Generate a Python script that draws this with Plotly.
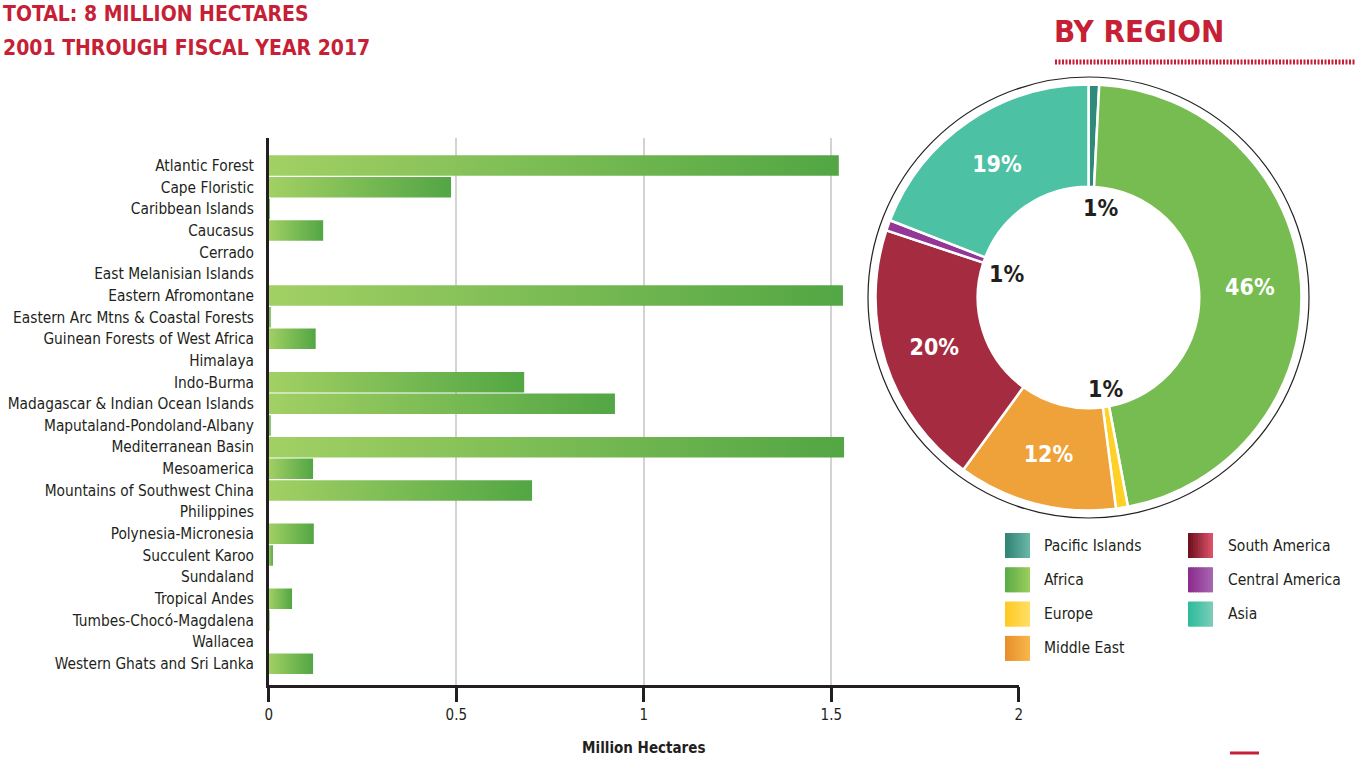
import plotly.graph_objects as go

W, H = 1355, 757

# ---------------- data ----------------
hotspots = [
    "Atlantic Forest", "Cape Floristic", "Caribbean Islands", "Caucasus", "Cerrado",
    "East Melanisian Islands", "Eastern Afromontane", "Eastern Arc Mtns & Coastal Forests",
    "Guinean Forests of West Africa", "Himalaya", "Indo-Burma",
    "Madagascar & Indian Ocean Islands", "Maputaland-Pondoland-Albany", "Mediterranean Basin",
    "Mesoamerica", "Mountains of Southwest China", "Philippines", "Polynesia-Micronesia",
    "Succulent Karoo", "Sundaland", "Tropical Andes", "Tumbes-Chocó-Magdalena", "Wallacea",
    "Western Ghats and Sri Lanka",
]
hectares_millions = [
    1.520, 0.486, 0.003, 0.145, 0.0,
    0.0, 1.531, 0.005,
    0.125, 0.0, 0.681,
    0.923, 0.005, 1.534,
    0.118, 0.702, 0.0, 0.120,
    0.011, 0.0, 0.062, 0.002, 0.0,
    0.118,
]
x_ticks = [0, 0.5, 1, 1.5, 2]
x_tick_labels = ["0", "0.5", "1", "1.5", "2"]

regions = ["Pacific Islands", "Africa", "Europe", "Middle East",
           "South America", "Central America", "Asia"]
region_share = [0.8, 46, 0.9, 12, 20, 0.8, 19]
region_labels = ["1%", "46%", "1%", "12%", "20%", "1%", "19%"]
region_colors = ["#2F8A79", "#77BC51", "#FFD126", "#EFA13A", "#A52C40", "#933698", "#4CC1A4"]
# gradient end colours used by the legend swatches (left, right)
region_grad = [("#2E8272", "#6CB7A8"), ("#5BAA45", "#9CCF5F"), ("#FFC820", "#FFE065"),
               ("#E58E2A", "#F9B74C"), ("#6A0E1B", "#E0566C"), ("#8A2A8E", "#A868B0"),
               ("#2BBB9B", "#7CCDB9")]

# legend order as in the reference (column-major)
legend_col1 = ["Pacific Islands", "Africa", "Europe", "Middle East"]
legend_col2 = ["South America", "Central America", "Asia"]

# ---------------- styling ----------------
FONT = "DejaVu Sans Condensed, Liberation Sans Narrow, sans-serif"
RED = "#C61F36"
DARK = "#231F20"

def px_x(p):
    return p / W

def px_y(p):
    return 1 - p / H

def mix(c1, c2, t):
    a = [int(c1[i:i + 2], 16) for i in (1, 3, 5)]
    b = [int(c2[i:i + 2], 16) for i in (1, 3, 5)]
    return "#" + "".join(f"{round(a[k] + (b[k] - a[k]) * t):02X}" for k in range(3))

fig = go.Figure()

# gradient bars, one filled polygon per bar built from the data values
half = 0.473
for i, (name, v) in enumerate(zip(hotspots, hectares_millions)):
    if v <= 0:
        continue
    fig.add_trace(go.Scatter(
        x=[0, v, v, 0, 0],
        y=[i - half, i - half, i + half, i + half, i - half],
        mode="lines", fill="toself",
        line=dict(width=0, color="rgba(0,0,0,0)"),
        fillcolor="#76BC52",
        fillgradient=dict(type="horizontal",
                          colorscale=[[0, "#A2D064"], [1, "#52A644"]]),
        name=name, showlegend=False,
        hovertemplate=name + ": %{x:.3f}<extra></extra>",
    ))

# outer thin ring
fig.add_trace(go.Pie(
    values=[1], labels=["ring"], marker=dict(colors=["white"], line=dict(color="#222222", width=1.2)),
    domain=dict(x=[px_x(868), px_x(1309)], y=[px_y(518), px_y(77)]),
    textinfo="none", hoverinfo="skip", showlegend=False, sort=False,
))

# donut
fig.add_trace(go.Pie(
    labels=regions, values=region_share, text=region_labels,
    texttemplate=["" if s < 5 else "%{text}" for s in region_share],
    textposition="inside", insidetextorientation="horizontal",
    insidetextfont=dict(family=FONT, size=23, color="white", weight="bold"),
    marker=dict(colors=region_colors, line=dict(color="white", width=2.5)),
    hole=0.52, sort=False, direction="clockwise", rotation=0,
    domain=dict(x=[px_x(875.5), px_x(1301.5)], y=[px_y(510.5), px_y(84.5)]),
    showlegend=False, hovertemplate="%{label}: %{text}<extra></extra>",
))

# small-slice labels placed in the hole
small_pos = {0: (1100, 208), 5: (1006, 274), 2: (1105, 389)}
annotations = []
for idx, (xp, yp) in small_pos.items():
    annotations.append(dict(
        x=px_x(xp), y=px_y(yp), xref="paper", yref="paper", showarrow=False,
        text=region_labels[idx], font=dict(family=FONT, size=23, color=DARK, weight="bold"),
        xanchor="center", yanchor="middle"))

# headings
annotations += [
    dict(x=0.001, y=px_y(14), xref="paper", yref="paper", xanchor="left", yanchor="middle",
         text="TOTAL: 8 MILLION HECTARES", showarrow=False,
         font=dict(family=FONT, size=21, color=RED, weight="bold")),
    dict(x=0.001, y=px_y(48), xref="paper", yref="paper", xanchor="left", yanchor="middle",
         text="2001 THROUGH FISCAL YEAR 2017", showarrow=False,
         font=dict(family=FONT, size=21, color=RED, weight="bold")),
    dict(x=px_x(1052), y=px_y(31), xref="paper", yref="paper", xanchor="left", yanchor="middle",
         text="BY REGION", showarrow=False,
         font=dict(family=FONT, size=31, color=RED, weight="bold")),
]

shapes = [
    dict(type="line", xref="paper", yref="paper", x0=px_x(1055), x1=1, y0=px_y(62), y1=px_y(62),
         line=dict(color=RED, width=5, dash="2px,1.5px")),
    dict(type="line", xref="paper", yref="paper", x0=px_x(1230), x1=px_x(1259), y0=px_y(753), y1=px_y(753),
         line=dict(color=RED, width=3)),
]

# legend swatches (gradient strips) + labels
grad_of = dict(zip(regions, region_grad))
NSTRIP = 10
for col, (items, sx, tx) in enumerate([(legend_col1, 1005, 1042), (legend_col2, 1188, 1226)]):
    for r, name in enumerate(items):
        cy = 545.5 + r * 34.3
        c_left, c_right = grad_of[name]
        for k in range(NSTRIP):
            x_end = min(sx + 25 * (k + 1) / NSTRIP + 1.2, sx + 25)
            shapes.append(dict(type="rect", xref="paper", yref="paper",
                               x0=px_x(sx + 25 * k / NSTRIP), x1=px_x(x_end),
                               y0=px_y(cy + 12.5), y1=px_y(cy - 12.5),
                               fillcolor=mix(c_left, c_right, (k + 0.5) / NSTRIP), line=dict(width=0)))
        annotations.append(dict(x=px_x(tx), y=px_y(cy), xref="paper", yref="paper",
                                xanchor="left", yanchor="middle", showarrow=False, text=name,
                                font=dict(family=FONT, size=15.5, color=DARK)))

fig.update_layout(
    width=W, height=H, margin=dict(l=0, r=0, t=0, b=0, autoexpand=False),
    paper_bgcolor="white", plot_bgcolor="white",
    font=dict(family=FONT, color=DARK),
    annotations=annotations, shapes=shapes,
    xaxis=dict(domain=[px_x(268.8), px_x(1018.8)], range=[0, 2], tickvals=x_ticks, ticktext=x_tick_labels,
               showgrid=True, gridcolor="#D3D3D3", gridwidth=1.5, zeroline=False,
               showline=True, linecolor=DARK, linewidth=2.5,
               ticks="outside", ticklen=15, tickwidth=2.5, tickcolor=DARK,
               tickfont=dict(family=FONT, size=15, color=DARK),
               title=dict(text="Million Hectares", standoff=24,
                          font=dict(family=FONT, size=15, color=DARK, weight="bold")),
               automargin=False, fixedrange=True),
    yaxis=dict(domain=[px_y(684.5), px_y(138.3)], range=[23.96, -1.26],
               tickvals=list(range(len(hotspots))), ticktext=hotspots,
               showgrid=False, zeroline=False, showline=True, linecolor=DARK, linewidth=2.5,
               ticks="", ticklabelstandoff=9,
               tickfont=dict(family=FONT, size=15.3, color=DARK),
               automargin=False, fixedrange=True),
)

fig.write_html("out.html", config={"displayModeBar": False},
               post_script="document.body.style.margin='0';document.body.style.overflow='hidden';")
